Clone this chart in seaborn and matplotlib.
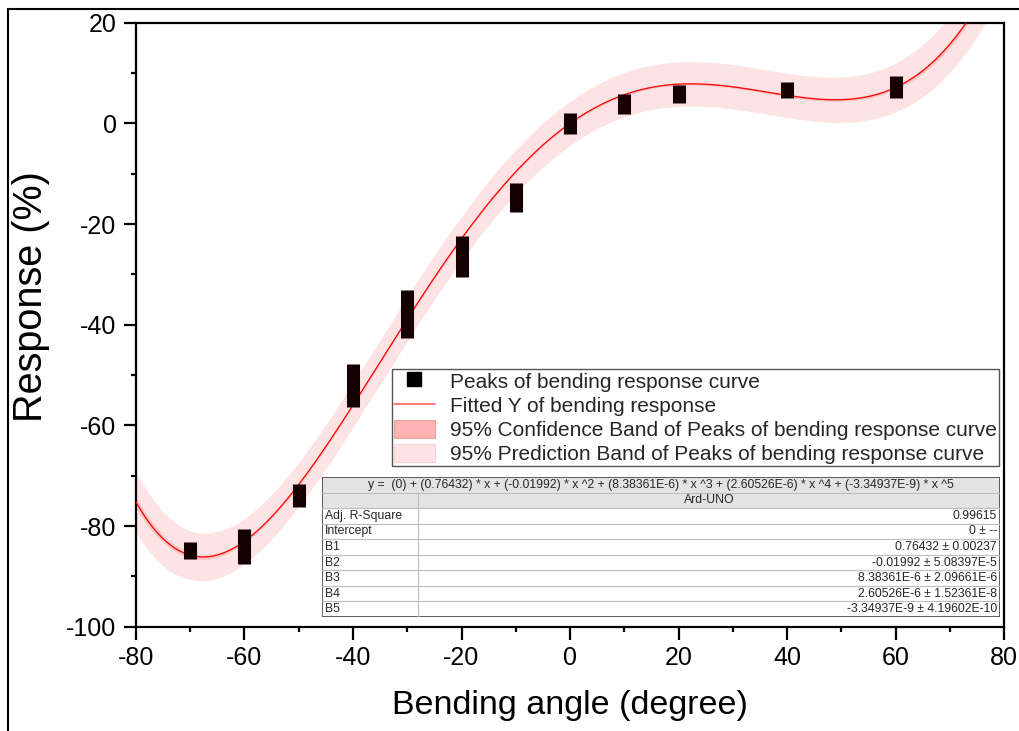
import numpy as np
import pandas as pd
import matplotlib
matplotlib.use("Agg")
import matplotlib.pyplot as plt
import seaborn as sns
from matplotlib.lines import Line2D
from matplotlib.patches import Patch, Rectangle

# measured peaks: each angle shows a stack of repeated readings (low / high end)
angles = [-70, -60, -50, -40, -30, -20, -10, 0, 10, 20, 40, 60]
peak_low = [-86.6, -87.5, -76.2, -56.4, -42.6, -30.6, -17.6, -2.2, 1.9, 4.0, 5.0, 5.0]
peak_high = [-83.2, -80.6, -71.6, -47.8, -33.1, -22.3, -11.8, 2.1, 5.8, 7.6, 8.2, 9.5]

# polynomial fit coefficients as printed in the table (B5 ... Intercept)
fit_coef = [-3.34937e-9, 2.60526e-6, 8.38361e-6, -0.01992, 0.76432, 0.0]

# band half widths at -80, -70, ..., 80
band_x = [-80, -70, -60, -50, -40, -30, -20, -10, 0, 10, 20, 30, 40, 50, 60, 70, 80]
pred_half = [6.0, 4.8, 4.5, 4.4, 4.4, 4.4, 4.4, 4.4, 4.4, 4.4, 4.4, 4.4, 4.4, 4.5, 4.8, 5.6, 6.5]
conf_half = [1.0, 0.5, 0.35, 0.3, 0.3, 0.3, 0.25, 0.25, 0.25, 0.25, 0.25, 0.25, 0.3, 0.3, 0.35, 0.6, 1.0]

table_rows = ["Adj. R-Square", "Intercept", "B1", "B2", "B3", "B4", "B5"]
table_vals = ["0.99615", "0 \u00b1 --", "0.76432 \u00b1 0.00237",
              "-0.01992 \u00b1 5.08397E-5", "8.38361E-6 \u00b1 2.09661E-6",
              "2.60526E-6 \u00b1 1.52361E-8", "-3.34937E-9 \u00b1 4.19602E-10"]
formula = ("y =  (0) + (0.76432) * x + (-0.01992) * x ^2 + (8.38361E-6) * x ^3"
           " + (2.60526E-6) * x ^4 + (-3.34937E-9) * x ^5")

sns.set_theme(style="ticks")
plt.rcParams["font.family"] = ["Liberation Sans", "DejaVu Sans"]
plt.rcParams["axes.unicode_minus"] = False

fig = plt.figure(figsize=(10.19, 7.31), dpi=100)
ax = fig.add_axes([136 / 1019, 1 - 626.7 / 731, 868 / 1019, 604 / 731])

xs = np.linspace(-80, 80, 400)
fit = pd.DataFrame({"angle": xs, "resp": np.polyval(fit_coef, xs)})
pw = np.interp(xs, band_x, pred_half)
cw = np.interp(xs, band_x, conf_half)

ax.fill_between(fit["angle"], fit["resp"] - pw, fit["resp"] + pw,
                color="#fde3e4", lw=0, zorder=1)
ax.fill_between(fit["angle"], fit["resp"] - cw, fit["resp"] + cw,
                color="#fbc4c4", lw=0, zorder=2)
sns.lineplot(data=fit, x="angle", y="resp", color="#ff0000", lw=0.9,
             ax=ax, zorder=3)

ax.vlines(angles, peak_low, peak_high, color="#140000", lw=9.4,
          capstyle="butt", zorder=4)

ax.set_xlim(-80, 80)
ax.set_ylim(-100, 20)
ax.set_xticks(np.arange(-80, 81, 20))
ax.set_xticks(np.arange(-70, 80, 20), minor=True)
ax.set_yticks(np.arange(-100, 21, 20))
ax.set_yticks(np.arange(-90, 20, 20), minor=True)
ax.tick_params(which="major", direction="out", length=9, width=1.6,
               labelsize=18, pad=5, color="black", labelcolor="black")
ax.tick_params(which="minor", direction="out", length=3.5, width=1.6,
               color="black")
ax.tick_params(top=False, right=False, which="both")
for s in ax.spines.values():
    s.set_linewidth(1.6)
    s.set_color("black")

ax.set_xlabel("Bending angle (degree)", fontsize=24.5, color="black")
ax.set_ylabel("Response (%)", fontsize=28.5, color="black")
ax.xaxis.set_label_coords(0.5, -0.104)
ax.yaxis.set_label_coords(-0.099, 0.546)

handles = [
    Line2D([], [], marker="s", ls="none", color="black", markersize=10),
    Line2D([], [], color="#ff6060", lw=1.2),
    Patch(facecolor="#ffb3b3", edgecolor="#e9a0a0", lw=0.8),
    Patch(facecolor="#fde3e4", edgecolor="#f4d4d4", lw=0.8),
]
labels = ["Peaks of bending response curve",
          "Fitted Y of bending response",
          "95% Confidence Band of Peaks of bending response curve",
          "95% Prediction Band of Peaks of bending response curve"]
leg = ax.legend(handles, labels, loc="upper left",
                bbox_to_anchor=(256 / 868, 257.7 / 604), borderaxespad=0,
                fontsize=15, frameon=True, fancybox=False, framealpha=1,
                edgecolor="#555555", borderpad=0.1, handlelength=1.95,
                handleheight=1.0, handletextpad=0.75, labelspacing=0.18)
leg.get_frame().set_linewidth(1.0)
leg.set_zorder(6)

# parameter table drawn as a small axes
tab = fig.add_axes([322 / 1019, 1 - 617 / 731, 678 / 1019, 140 / 731])
tab.set_xlim(0, 678)
tab.set_ylim(9, 0)
tab.axis("off")
tab.add_patch(Rectangle((0, 0), 678, 9, facecolor="white", edgecolor="none"))
tab.add_patch(Rectangle((0, 0), 678, 2, facecolor="#e3e3e3", edgecolor="none"))
for r in range(1, 9):
    tab.plot([0, 678], [r, r], color="#bdbdbd", lw=0.8)
tab.plot([96, 96], [1, 9], color="#bdbdbd", lw=0.8)
tab.add_patch(Rectangle((0, 0), 678, 9, facecolor="none", edgecolor="#444444",
                        lw=1.2))
tab.text(339, 0.5, formula, ha="center", va="center", fontsize=8.8)
tab.text(387, 1.5, "Ard-UNO", ha="center", va="center", fontsize=8.8)
for i, (name, val) in enumerate(zip(table_rows, table_vals)):
    tab.text(3, 2.5 + i, name, ha="left", va="center", fontsize=8.8)
    tab.text(675, 2.5 + i, val, ha="right", va="center", fontsize=8.8)

# partial outer frame of the original figure
fig.add_artist(Line2D([8 / 1019, 8 / 1019], [0, 1 - 9 / 731],
                      transform=fig.transFigure, color="black", lw=1.5))
fig.add_artist(Line2D([8 / 1019, 1], [1 - 9 / 731, 1 - 9 / 731],
                      transform=fig.transFigure, color="black", lw=1.5))

fig.savefig("out.png", dpi=100)
